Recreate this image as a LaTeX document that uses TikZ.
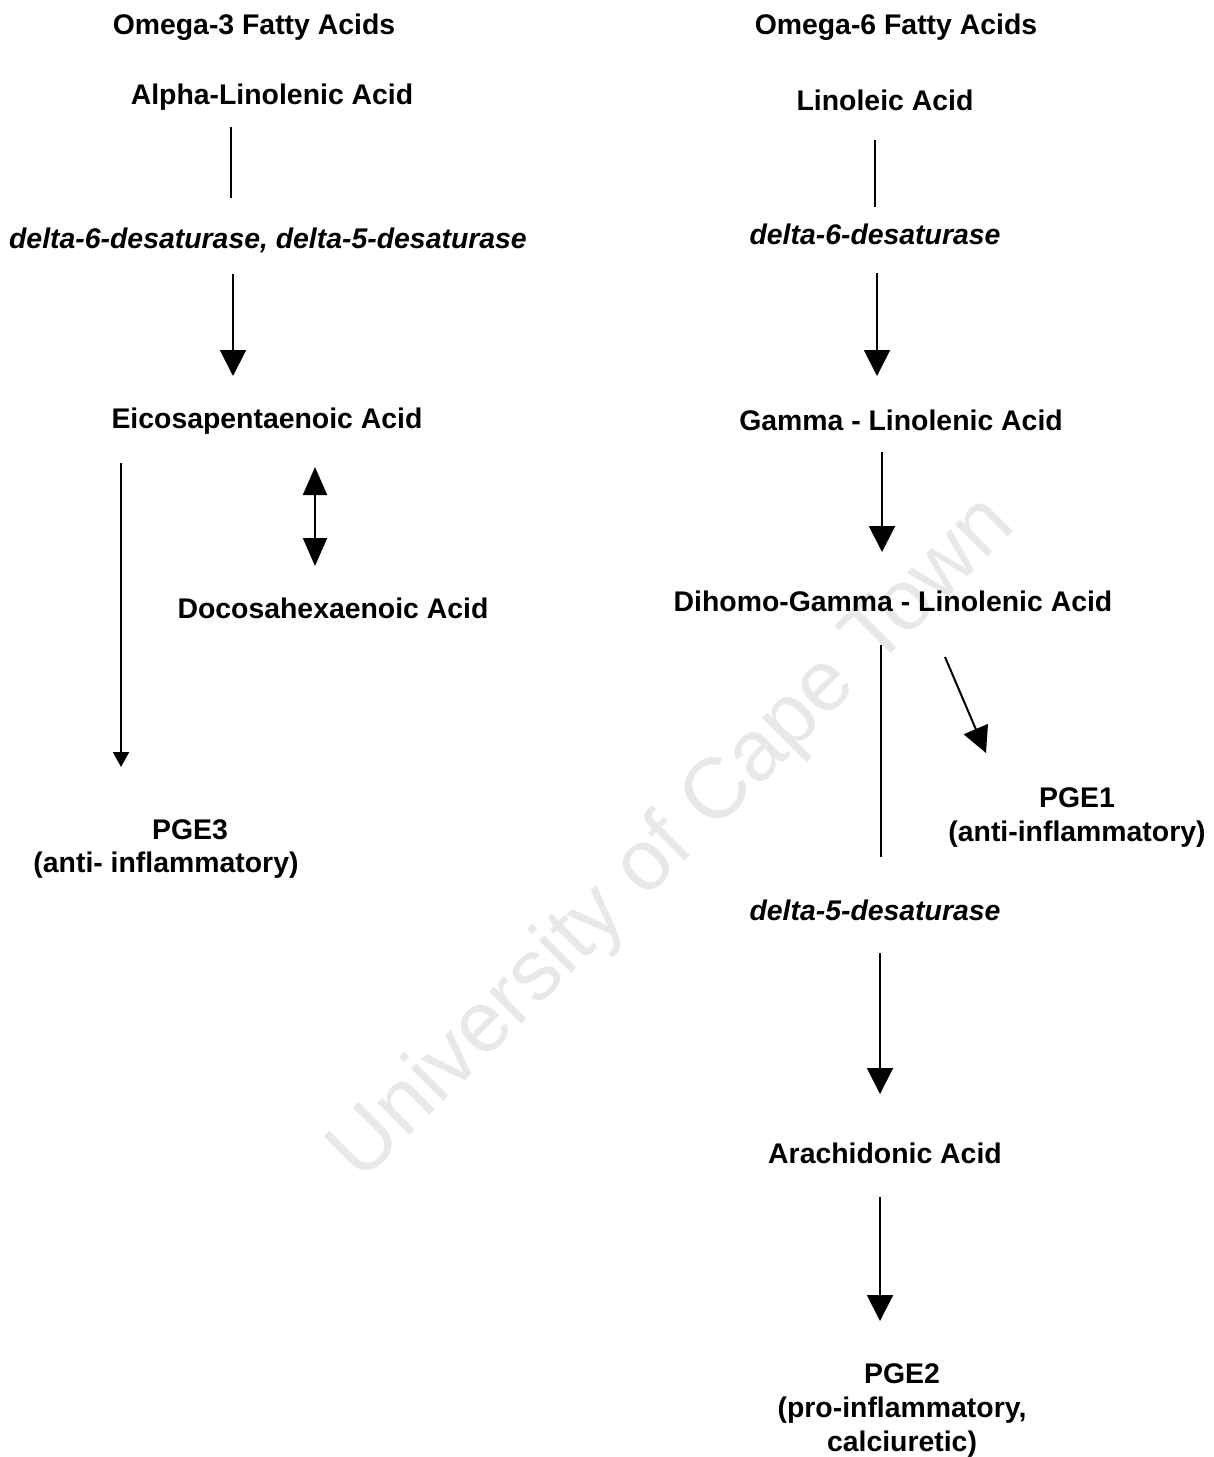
\documentclass[tikz,border=0pt]{standalone}
\usepackage{fontspec}
\setmainfont{Liberation Sans}
\usepackage{xcolor}
\usetikzlibrary{arrows.meta, positioning, calc}

\begin{document}
\begin{tikzpicture}[
  x=0.5pt, y=-0.5pt,
  acid/.style={anchor=base, inner sep=0pt, font=\fontsize{14.2}{17}\selectfont\bfseries},
  enzyme/.style={acid, font=\fontsize{14.2}{17}\selectfont\bfseries\itshape},
  plain/.style={line width=1pt, black},
  stepline/.style={plain, -{Triangle[width=13pt, length=13pt]}},
  thinline/.style={plain, -{Triangle[width=8pt, length=7.5pt]}},
  bothline/.style={plain, {Triangle[width=12pt, length=14pt]}-{Triangle[width=12pt, length=14pt]}}
]
  \useasboundingbox (0,0) rectangle (1214,1457);

  % watermark
  \node[rotate=45, text=gray!18, font=\fontsize{43}{50}\selectfont] (wm) at (674,840) {University of Cape Town};

  % omega-3 side
  \node[acid] (o3)  at (254,34)  {Omega-3 Fatty Acids};
  \node[acid] (ala) at (272,104) {Alpha-Linolenic Acid};
  \node[enzyme] (d65) at (268,248) {delta-6-desaturase, delta-5-desaturase};
  \node[acid] (epa) at (267,428) {Eicosapentaenoic Acid};
  \node[acid] (dha) at (333,618) {Docosahexaenoic Acid};
  \node[acid] (pge3) at (190,839) {PGE3};
  \node[acid] (pge3t) at (166,872) {(anti- inflammatory)};

  % omega-6 side
  \node[acid] (o6)   at (896,34)  {Omega-6 Fatty Acids};
  \node[acid] (la)   at (885,110) {Linoleic Acid};
  \node[enzyme] (d6) at (875,244) {delta-6-desaturase};
  \node[acid] (gla)  at (901,430) {Gamma - Linolenic Acid};
  \node[acid] (dgla) at (893,611) {Dihomo-Gamma - Linolenic Acid};
  \node[acid, align=center] (pge1) at (1077,841) {PGE1\\(anti-inflammatory)};
  \node[enzyme] (d5) at (875,920) {delta-5-desaturase};
  \node[acid] (aa)   at (885,1163) {Arachidonic Acid};
  \node[acid, align=center] (pge2) at (902,1451) {PGE2\\(pro-inflammatory,\\calciuretic)};

  % connector ends
  \coordinate (a1) at (231,127);  \coordinate (a2) at (231,198);
  \coordinate (b1) at (233,274);  \coordinate (b2) at (233,376);
  \coordinate (c1) at (121,463);  \coordinate (c2) at (121,767);
  \coordinate (e1) at (315,467);  \coordinate (e2) at (315,566);
  \coordinate (f1) at (875,140);  \coordinate (f2) at (875,207);
  \coordinate (g1) at (877,273);  \coordinate (g2) at (877,376);
  \coordinate (h1) at (882,452);  \coordinate (h2) at (882,552);
  \coordinate (i1) at (881,645);  \coordinate (i2) at (881,857);
  \coordinate (j1) at (945,657);  \coordinate (j2) at (986,753);
  \coordinate (k1) at (880,953);  \coordinate (k2) at (880,1094);
  \coordinate (l1) at (880,1197); \coordinate (l2) at (880,1321);

  \draw[plain] (a1) -- (a2);
  \draw[stepline] (b1) -- (b2);
  \draw[thinline] (c1) -- (c2);
  \draw[bothline] (e1) -- (e2);

  \draw[plain] (f1) -- (f2);
  \draw[stepline] (g1) -- (g2);
  \draw[stepline] (h1) -- (h2);
  \draw[plain] (i1) -- (i2);
  \draw[stepline] (j1) -- (j2);
  \draw[stepline] (k1) -- (k2);
  \draw[stepline] (l1) -- (l2);
\end{tikzpicture}
\end{document}
